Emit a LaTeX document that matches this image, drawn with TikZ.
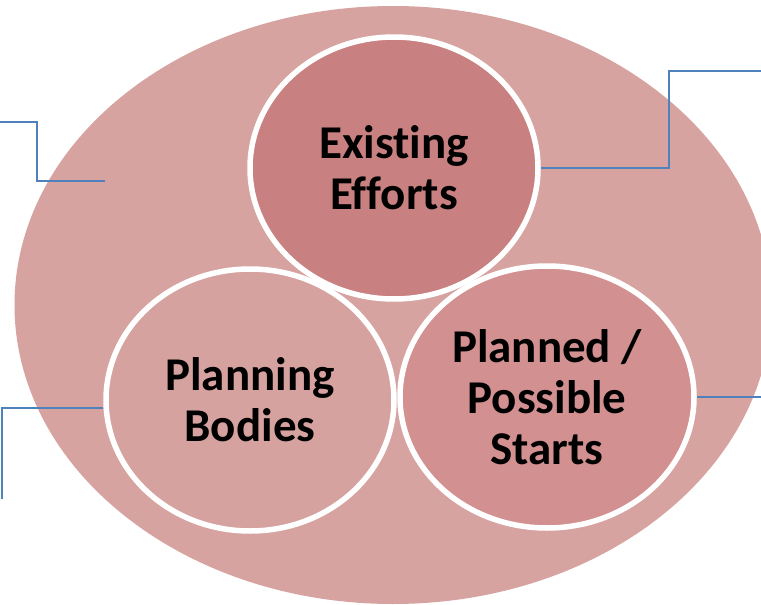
\documentclass[tikz,border=0pt]{standalone}
\usepackage{fontspec}
\setmainfont{Carlito}[Ligatures=NoCommon]
\usetikzlibrary{shapes.geometric}
\definecolor{outerpink}{HTML}{D7A3A1}
\definecolor{existpink}{HTML}{C98080}
\definecolor{bodiespink}{HTML}{D6A2A0}
\definecolor{plannedpink}{HTML}{D29090}
\definecolor{linkblue}{HTML}{4F81BD}

\begin{document}
\begin{tikzpicture}[x=1pt,y=-1pt]
    \tikzstyle{blob}=[ellipse,draw=white,line width=5.5pt,minimum width=288pt,minimum height=262pt,
      align=center,font=\fontsize{47}{51}\selectfont\bfseries,inner sep=0pt]
    \tikzstyle{link}=[draw=linkblue,line width=1.6pt]
    \useasboundingbox (0,0) rectangle (761,605);
    \node[ellipse,fill=outerpink,minimum width=757pt,minimum height=598pt] (outer) at (393,305) {};
    \node[blob,fill=existpink] (exist) at (394,168) {Existing\\Efforts};
    \node[blob,fill=bodiespink] (bodies) at (250,400) {Planning\\Bodies};
    \node[blob,fill=plannedpink,minimum width=294pt] (planned) at (547,397) {Planned /\\Possible\\Starts};
    \coordinate (tlfree) at (0,122);
    \coordinate (tlend) at (105,181);
    \coordinate (trfree) at (761,71);
    \coordinate (blfree) at (2,499);
    \coordinate (brfree) at (761,397);
    \draw[link] (tlfree) -| (37,181) -- (tlend);
    \draw[link] (exist.east) -| (669,71) -- (trfree);
    \draw[link] ([yshift=-8pt]bodies.west) -| (blfree);
    \draw[link] (planned.east) -- (brfree);
\end{tikzpicture}
\end{document}
